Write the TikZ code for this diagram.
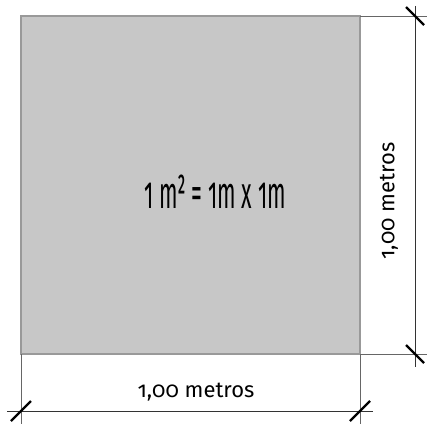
\documentclass[tikz,border=0pt]{standalone}
\usepackage{fontspec}
\setmainfont{Fira Sans}[Numbers=OldStyle]
\usetikzlibrary{positioning,calc}

\begin{document}
\begin{tikzpicture}[x=1pt, y=1pt,
  extline/.style={draw=black!60, line width=0.9pt},
  dimline/.style={draw=black!80, line width=1pt},
  tick/.style={draw=black, line width=2.2pt}]
  \useasboundingbox (0,0) rectangle (427,424);

  % the square metre
  \draw[fill=black!22, draw=black!40, line width=1.6pt] (21,70) rectangle (360,408);
  \coordinate (TR) at (360,408);
  \coordinate (BR) at (360,70);
  \coordinate (BL) at (21,70);
  \node[font=\fontsize{45}{45}\selectfont, xscale=0.48, transform shape] (area) at (215,232) {1 m² = 1m x 1m};

  % extension lines
  \coordinate (TRx) at (427,408);
  \coordinate (BRx) at (427,70);
  \coordinate (BLy) at (21,0);
  \coordinate (BRy) at (360,0);
  \draw[extline] (TR) -- (TRx);
  \draw[extline] (BR) -- (BRx);
  \draw[extline] (BL) -- (BLy);
  \draw[extline] (BR) -- (BRy);

  % vertical dimension
  \coordinate (V1) at (415,418);
  \coordinate (V2) at (415,57);
  \coordinate (Vt) at (415,408);
  \coordinate (Vb) at (415,70);
  \draw[dimline] (V1) -- (V2);
  \draw[tick] ($(Vt)+(-9,9)$) -- ($(Vt)+(9,-9)$);
  \draw[tick] ($(Vb)+(-9,9)$) -- ($(Vb)+(9,-9)$);
  \node[font=\fontsize{22}{22}\selectfont, rotate=90] (hlabel) at (389,223) {1,00 metros};

  % horizontal dimension
  \coordinate (H1) at (7,13);
  \coordinate (H2) at (373,13);
  \coordinate (Hl) at (21,13);
  \coordinate (Hr) at (360,13);
  \draw[dimline] (H1) -- (H2);
  \draw[tick] ($(Hl)+(-10,-10)$) -- ($(Hl)+(10,10)$);
  \draw[tick] ($(Hr)+(-10,-10)$) -- ($(Hr)+(10,10)$);
  \node[font=\fontsize{22}{22}\selectfont] (wlabel) at (196,32) {1,00 metros};
\end{tikzpicture}
\end{document}
